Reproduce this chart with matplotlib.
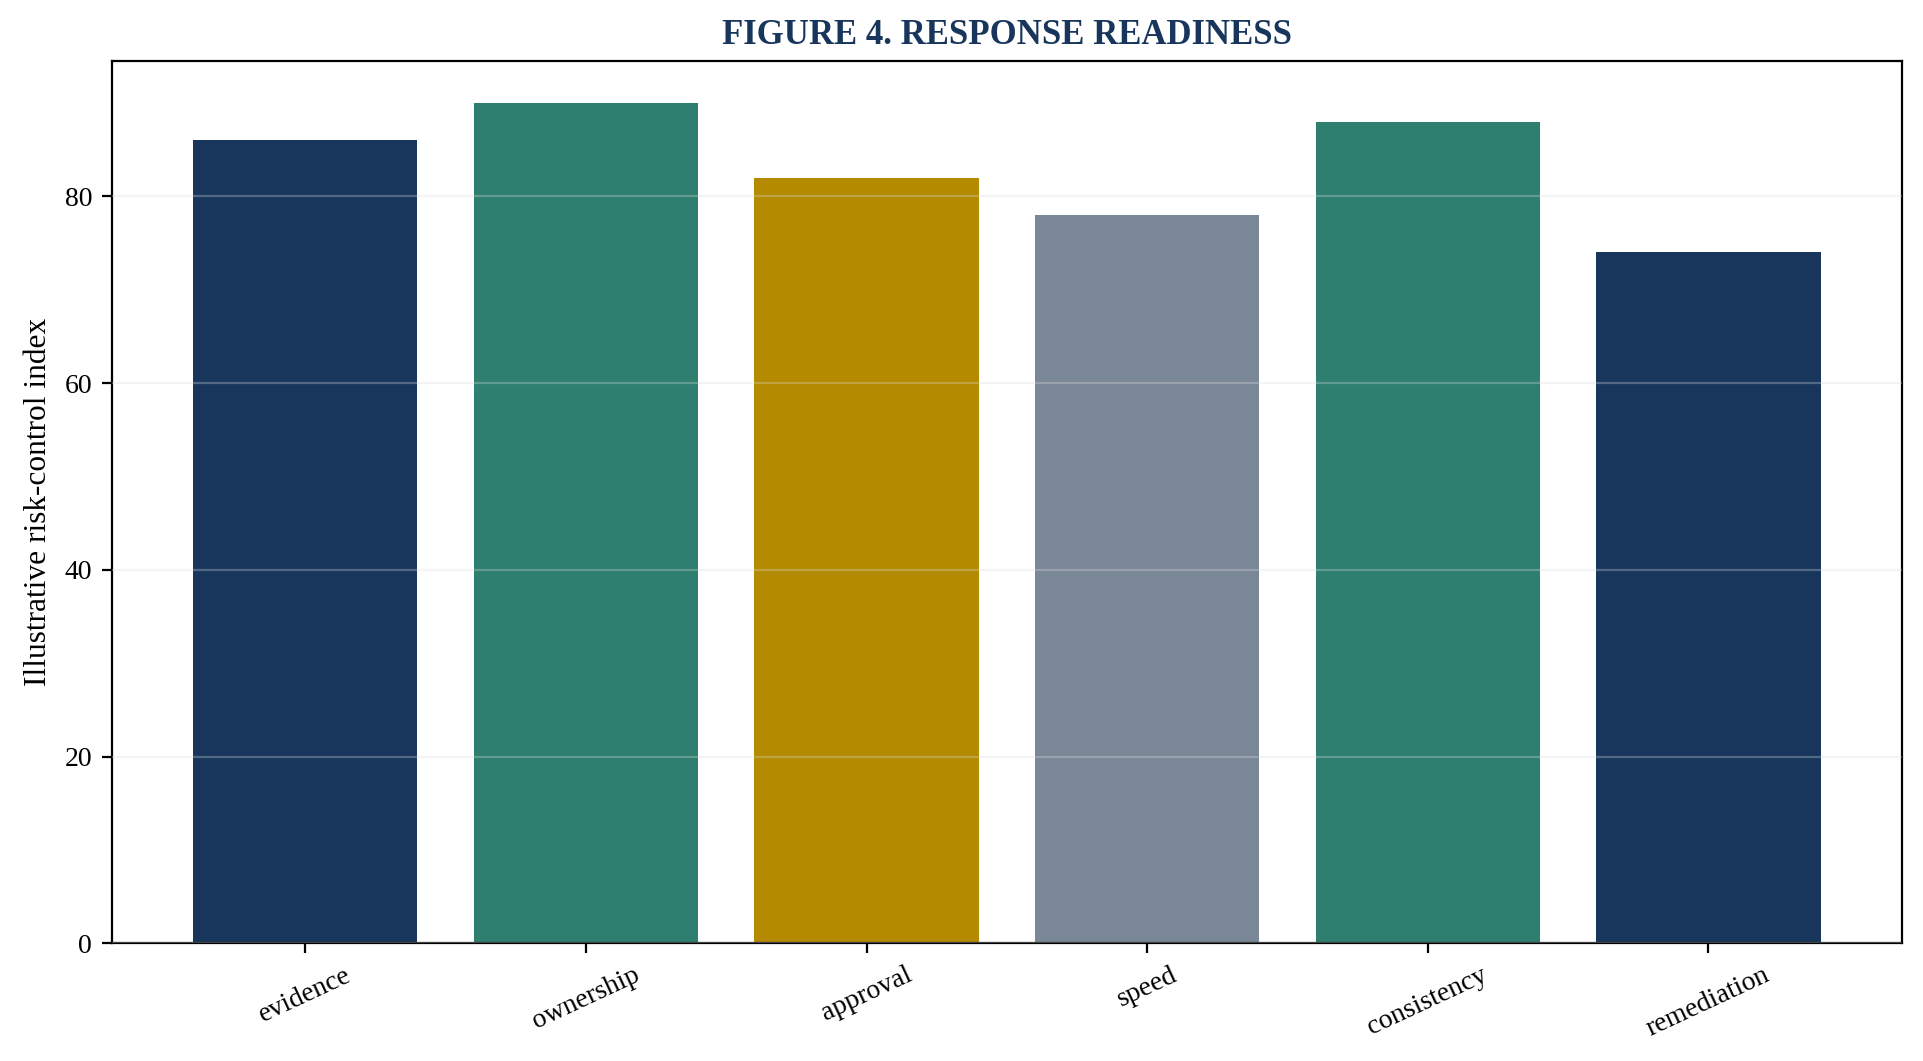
import matplotlib
matplotlib.use("Agg")
import matplotlib.pyplot as plt

categories = ["evidence", "ownership", "approval", "speed", "consistency", "remediation"]
values = [86, 90, 82, 78, 88, 74]
colors = ["#18365C", "#2E7F6F", "#B38A00", "#7A8796", "#2E7F6F", "#18365C"]

plt.rcParams["font.family"] = ["Liberation Serif", "DejaVu Serif"]

fig = plt.figure(figsize=(9.62, 5.305), dpi=200)
ax = fig.add_axes([0.058, 0.111, 0.9306, 0.8315])

ax.bar(categories, values, color=colors, width=0.8)
ax.set_axisbelow(False)
ax.grid(axis="y", color="#dddddd", alpha=0.3, linewidth=0.8)
ax.set_yticks([0, 20, 40, 60, 80])
ax.tick_params(axis="both", labelsize=10)
plt.setp(ax.get_xticklabels(), rotation=25)
ax.set_ylabel("Illustrative risk-control index", fontsize=11.3)
ax.set_title("FIGURE 4. RESPONSE READINESS", fontsize=12.5, fontweight="bold",
             color="#18365C", pad=6)

fig.savefig("out.png", dpi=200)
